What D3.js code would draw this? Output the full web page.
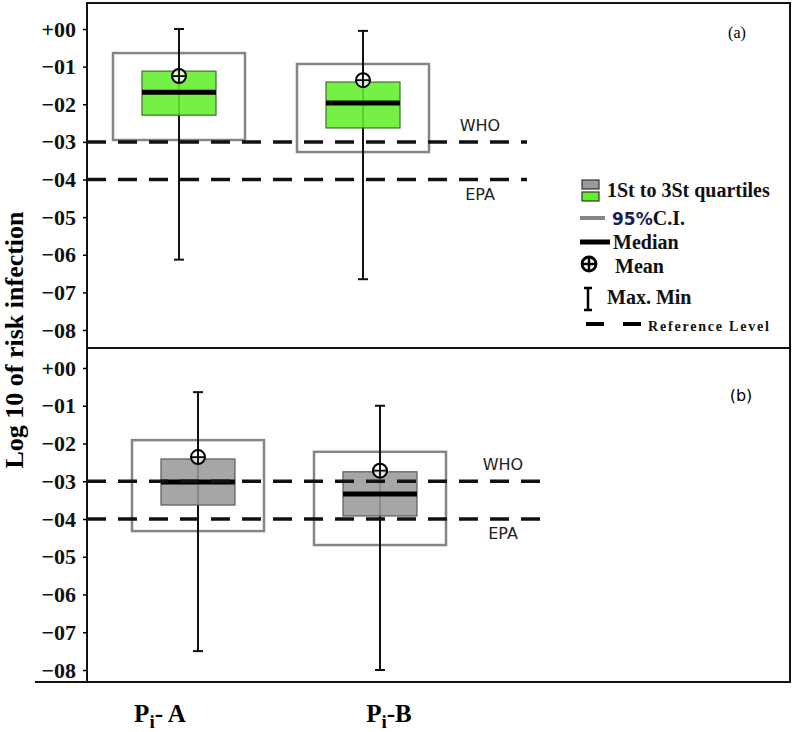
<!DOCTYPE html>
<html lang="en">

<head>
  <meta charset="utf-8">
  <title>Risk of infection</title>
  <script src="https://cdn.jsdelivr.net/npm/d3@7/dist/d3.min.js"></script>
  <style>
    body { margin: 0; background: #fff; }
    svg { display: block; }
    .serif { font-family: "Liberation Serif", "Times New Roman", serif; font-weight: bold; }
    .sans { font-family: "DejaVu Sans", sans-serif; }
  </style>
</head>

<body>
  <svg id="chart"></svg>
  <script>
    // categories and tick labels
    var categories = ["Pi- A", "Pi-B"];
    var yTicks = [0, -1, -2, -3, -4, -5, -6, -7, -8];
    var refValues = [-3, -4];
    var refLabels = ["WHO", "EPA"];

    // panel (a) values, log10 of risk
    var aMax = [0.0, -0.05];
    var aCiHigh = [-0.64, -0.93];
    var aQ3 = [-1.12, -1.41];
    var aMean = [-1.25, -1.36];
    var aMedian = [-1.68, -1.97];
    var aQ1 = [-2.29, -2.63];
    var aCiLow = [-2.95, -3.27];
    var aMin = [-6.13, -6.65];

    // panel (b) values
    var bMax = [-0.64, -1.0];
    var bCiHigh = [-1.91, -2.22];
    var bQ3 = [-2.41, -2.75];
    var bMean = [-2.36, -2.72];
    var bMedian = [-3.02, -3.34];
    var bQ1 = [-3.63, -3.92];
    var bCiLow = [-4.32, -4.69];
    var bMin = [-7.5, -8.0];

    var legendLabels = ["1St to 3St quartiles", "95%C.I.", "Median", "Mean", "Max. Min", "Reference Level"];

    var w = 794, h = 732;
    var left = 87, right = 790;
    var boxW = 74, ciW = 132, capW = 10;

    var svg = d3.select("#chart").attr("width", w).attr("height", h);

    var panels = [
      { tag: "(a)", top: 3, bottom: 348, yRange: [29, 330], xRange: [179, 363], fill: "#62ef2c", stroke: "#3f6f30",
        refEnd: 527, labelX: 480, tagX: 737, tagY: 38, tagSans: false,
        max: aMax, ciHi: aCiHigh, q3: aQ3, mean: aMean, med: aMedian, q1: aQ1, ciLo: aCiLow, min: aMin },
      { tag: "(b)", top: 348, bottom: 682, yRange: [368, 670], xRange: [198, 380], fill: "#9a9a9a", stroke: "#5a5a5a",
        refEnd: 550, labelX: 503, tagX: 741, tagY: 401, tagSans: true,
        max: bMax, ciHi: bCiHigh, q3: bQ3, mean: bMean, med: bMedian, q1: bQ1, ciLo: bCiLow, min: bMin }
    ];

    panels.forEach(function(p) {
      var y = d3.scaleLinear().domain([0, -8]).range(p.yRange);
      var x = d3.scalePoint().domain(categories).range(p.xRange);
      var g = svg.append("g");

      // y axis
      var axis = g.append("g")
        .attr("transform", "translate(" + left + ",0)")
        .call(d3.axisLeft(y).tickValues(yTicks).tickSize(4).tickFormat(d3.format("+03d")));
      axis.select(".domain").remove();
      axis.selectAll("line").attr("stroke", "#000").attr("stroke-width", 1.5);
      axis.selectAll("text")
        .attr("class", "serif")
        .attr("x", -11)
        .style("font-size", "22px")
        .attr("fill", "#111");

      // boxes
      var boxes = g.selectAll(".box").data(categories).enter().append("g");

      boxes.append("rect")
        .attr("x", function(d) { return x(d) - ciW / 2; })
        .attr("y", function(d, i) { return y(p.ciHi[i]); })
        .attr("width", ciW)
        .attr("height", function(d, i) { return y(p.ciLo[i]) - y(p.ciHi[i]); })
        .attr("fill", "none")
        .attr("stroke", "#858585")
        .attr("stroke-width", 2.5);

      boxes.append("line")
        .attr("x1", function(d) { return x(d); })
        .attr("x2", function(d) { return x(d); })
        .attr("y1", function(d, i) { return y(p.max[i]); })
        .attr("y2", function(d, i) { return y(p.min[i]); })
        .attr("stroke", "#111").attr("stroke-width", 2);

      [p.max, p.min].forEach(function(arr) {
        boxes.append("line")
          .attr("x1", function(d) { return x(d) - capW / 2; })
          .attr("x2", function(d) { return x(d) + capW / 2; })
          .attr("y1", function(d, i) { return y(arr[i]); })
          .attr("y2", function(d, i) { return y(arr[i]); })
          .attr("stroke", "#111").attr("stroke-width", 2);
      });

      boxes.append("rect")
        .attr("x", function(d) { return x(d) - boxW / 2; })
        .attr("y", function(d, i) { return y(p.q3[i]); })
        .attr("width", boxW)
        .attr("height", function(d, i) { return y(p.q1[i]) - y(p.q3[i]); })
        .attr("fill", p.fill)
        .attr("fill-opacity", 0.88)
        .attr("stroke", p.stroke)
        .attr("stroke-width", 1.2);

      boxes.append("line")
        .attr("x1", function(d) { return x(d) - boxW / 2; })
        .attr("x2", function(d) { return x(d) + boxW / 2; })
        .attr("y1", function(d, i) { return y(p.med[i]); })
        .attr("y2", function(d, i) { return y(p.med[i]); })
        .attr("stroke", "#000").attr("stroke-width", 5);

      // reference levels
      refValues.forEach(function(v, k) {
        g.append("line")
          .attr("x1", left).attr("x2", p.refEnd)
          .attr("y1", y(v)).attr("y2", y(v))
          .attr("stroke", "#111").attr("stroke-width", 3.5)
          .attr("stroke-dasharray", "19,12");
        g.append("text")
          .attr("class", "sans")
          .attr("x", p.labelX)
          .attr("y", k === 0 ? y(v) - 11 : y(v) + 20)
          .attr("text-anchor", "middle")
          .style("font-size", "16px")
          .attr("fill", "#222")
          .text(refLabels[k]);
      });

      // mean markers
      var means = boxes.append("g")
        .attr("transform", function(d, i) { return "translate(" + x(d) + "," + y(p.mean[i]) + ")"; });
      means.append("circle").attr("r", 7).attr("fill", "#fff").attr("fill-opacity", 0.7)
        .attr("stroke", "#000").attr("stroke-width", 2);
      means.append("path").attr("d", "M-7,0H7M0,-7V7").attr("stroke", "#000").attr("stroke-width", 1.8);

      g.append("text")
        .attr("class", p.tagSans ? "sans" : "serif")
        .attr("x", p.tagX).attr("y", p.tagY)
        .attr("text-anchor", "middle")
        .style("font-size", "16px")
        .style("font-weight", "normal")
        .text(p.tag);
    });

    // frame
    svg.append("rect")
      .attr("x", left).attr("y", 3)
      .attr("width", right - left).attr("height", 682 - 3)
      .attr("fill", "none").attr("stroke", "#111").attr("stroke-width", 2);
    svg.append("line").attr("x1", left).attr("x2", right).attr("y1", 348).attr("y2", 348)
      .attr("stroke", "#111").attr("stroke-width", 2);
    svg.append("line").attr("x1", 35).attr("x2", right).attr("y1", 682).attr("y2", 682)
      .attr("stroke", "#111").attr("stroke-width", 2);

    // x labels
    var xl = d3.scalePoint().domain(categories).range([160, 389]);
    var xt = svg.selectAll(".xlab").data(categories).enter().append("text")
      .attr("class", "serif")
      .attr("x", function(d) { return xl(d); })
      .attr("y", 722)
      .attr("text-anchor", "middle")
      .style("font-size", "25px");
    xt.append("tspan").text(function(d) { return d.charAt(0); });
    xt.append("tspan").attr("dy", 6).style("font-size", "19px").text(function(d) { return d.charAt(1); });
    xt.append("tspan").attr("dy", -6).text(function(d) { return d.slice(2); });

    // y title
    svg.append("text")
      .attr("class", "serif")
      .attr("transform", "translate(23,340) rotate(-90)")
      .attr("text-anchor", "middle")
      .style("font-size", "26px")
      .text("Log 10 of risk infection");

    // legend
    var lg = svg.append("g");
    var ly = [190, 218, 242, 266, 297, 324];
    lg.append("rect").attr("x", 582).attr("y", 180).attr("width", 17).attr("height", 9)
      .attr("fill", "#9a9a9a").attr("stroke", "#333").attr("stroke-width", 1.2);
    lg.append("rect").attr("x", 582).attr("y", 192).attr("width", 17).attr("height", 9)
      .attr("fill", "#62ef2c").attr("stroke", "#333").attr("stroke-width", 1.2);
    lg.append("line").attr("x1", 580).attr("x2", 605).attr("y1", ly[1]).attr("y2", ly[1])
      .attr("stroke", "#858585").attr("stroke-width", 4);
    lg.append("line").attr("x1", 580).attr("x2", 610).attr("y1", ly[2]).attr("y2", ly[2])
      .attr("stroke", "#000").attr("stroke-width", 5);
    lg.append("circle").attr("cx", 589).attr("cy", ly[3] - 2).attr("r", 7)
      .attr("fill", "#fff").attr("stroke", "#000").attr("stroke-width", 2.8);
    lg.append("path").attr("d", "M582," + (ly[3] - 2) + "H596M589," + (ly[3] - 9) + "V" + (ly[3] + 5))
      .attr("stroke", "#000").attr("stroke-width", 2.5);
    lg.append("path").attr("d", "M588,288V310M584,288H592M584,310H592")
      .attr("stroke", "#000").attr("stroke-width", 2.5).attr("fill", "none");
    lg.append("line").attr("x1", 586).attr("x2", 646).attr("y1", ly[5]).attr("y2", ly[5])
      .attr("stroke", "#000").attr("stroke-width", 4).attr("stroke-dasharray", "18,19");

    var lx = [607, 612, 613, 615, 607, 648];
    legendLabels.forEach(function(t, i) {
      var tx = lg.append("text")
        .attr("class", "serif")
        .attr("x", lx[i]).attr("y", ly[i] + 7)
        .style("font-size", i === 5 ? "14px" : "20px")
        .style("letter-spacing", i === 5 ? "1.8px" : "0px")
        .attr("fill", "#111");
      if (i === 1) {
        tx.append("tspan").attr("class", "sans").style("font-weight", "bold").style("font-size", "17px")
          .attr("fill", "#1c1c50").text(t.slice(0, 3));
        tx.append("tspan").text(t.slice(3));
      } else {
        tx.text(t);
      }
    });
  </script>
</body>

</html>
